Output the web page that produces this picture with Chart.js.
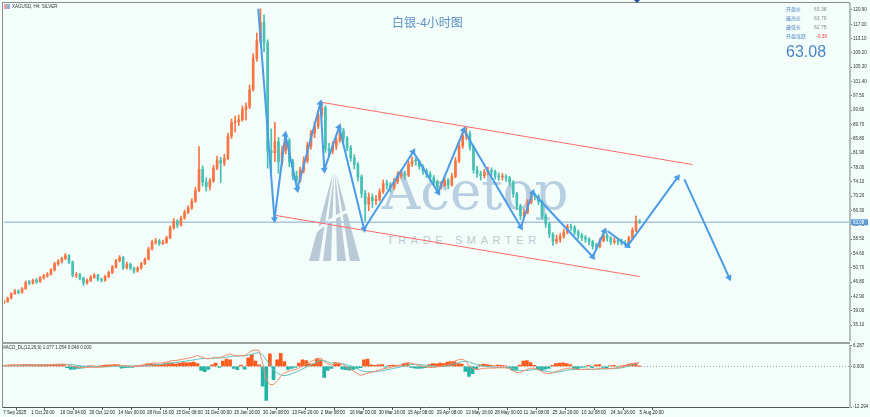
<!DOCTYPE html>
<html lang="zh">
  <head>
    <meta charset="UTF-8" />
    <title>XAGUSD H4 白银-4小时图</title>
    <script src="https://cdn.jsdelivr.net/npm/chart.js"></script>
    <style>
      body {
        margin: 0;
        width: 870px;
        height: 417px;
        overflow: hidden;
        position: relative;
        background: #f3fdf9;
        font-family: "Liberation Sans", Arial, sans-serif;
      }
      canvas { position: absolute; left: 0; z-index: 1; }
      #mainChart { top: 0; }
      #macdChart { top: 342px; }
      .abs { position: absolute; white-space: nowrap; z-index: 2; }
      .line { position: absolute; z-index: 3; }
      #wm { position: absolute; left: 0; top: 0; z-index: 0; }
      .wm-text { position: absolute; z-index: 0; white-space: nowrap; }
      .tiny { font-size: 4.5px; color: #333; line-height: 5px; }
      .info-l { font-family: "Noto Sans CJK SC", sans-serif; font-size: 5px; color: #5a8cc4; line-height: 6px; }
      .info-v { font-size: 5px; color: #888; line-height: 6px; }
    </style>
  </head>
  <body>
    <!-- watermark -->
    <svg id="wm" width="870" height="417">
      <polygon points="309,261 319,261 333,173" fill="#b9cad6" />
      <polygon points="323,261 331,261 334,173" fill="#b9cad6" />
      <polygon points="337,261 346,261 335,173" fill="#b9cad6" />
      <polygon points="350,261 360,261 336,173" fill="#b9cad6" />
      <path d="M312 234 Q335 214 364 204" stroke="#f3fdf9" stroke-width="3" fill="none" />
    </svg>
    <div class="wm-text" style="left:382px;top:164px;font-family:'DejaVu Serif',serif;font-size:53px;line-height:53px;color:#b7cfe1;">Acetop</div>
    <div class="wm-text" style="left:387px;top:234px;font-size:11px;letter-spacing:4.6px;color:#bfc9d0;">TRADE SMARTER</div>

    <canvas id="mainChart" width="870" height="344"></canvas>
    <canvas id="macdChart" width="870" height="75"></canvas>

    <!-- frame -->
    <div class="line" style="left:2px;top:2px;width:1px;height:406px;background:#8a8a8a;"></div>
    <div class="line" style="left:2px;top:2px;width:848px;height:1px;background:#8a8a8a;"></div>
    <div class="line" style="left:2px;top:342px;width:848px;height:2px;background:#9a9f9f;"></div>
    <div class="line" style="left:634px;top:0;width:0;height:0;border-left:3px solid transparent;border-right:3px solid transparent;border-top:3px solid #1f4e9c;"></div>

    <!-- labels -->
    <div class="abs" style="left:4px;top:4px;width:3px;height:5px;background:#e8a0a0;"></div>
    <div class="abs" style="left:7px;top:4px;width:3px;height:5px;background:#8fb3e0;"></div>
    <div class="abs tiny" style="left:12px;top:4px;">XAGUSD, H4: SILVER</div>
    <div class="abs tiny" style="left:2px;top:345px;">MACD_DL(12,26,9) 1.077 1.054 0.046 0.000</div>

    <div class="abs" style="left:392px;top:14px;font-family:'Noto Sans CJK SC',sans-serif;font-size:12px;line-height:16px;color:#5b8fc6;">白银-4小时图</div>

    <div class="abs info-l" style="left:786px;top:6px;">开盘价</div>
    <div class="abs info-v" style="left:814px;top:6px;">63.38</div>
    <div class="abs info-l" style="left:786px;top:15px;">最高价</div>
    <div class="abs info-v" style="left:814px;top:15px;">63.79</div>
    <div class="abs info-l" style="left:786px;top:24px;">最低价</div>
    <div class="abs info-v" style="left:814px;top:24px;">62.75</div>
    <div class="abs info-l" style="left:786px;top:33px;">开盘涨跌</div>
    <div class="abs info-v" style="left:816px;top:33px;color:#ff3b3b;">-0.30</div>
    <div class="abs" style="left:786px;top:43px;font-size:16px;line-height:18px;color:#4a86c8;">63.08</div>

    <script>
      // H4 candles, one per slot (8 slots between time labels)
      const firstOpen = 41.2;
      const closes = [
        41.5, 42.4, 43.6, 44.3, 44.0, 45.0, 46.8, 46.5, 47.3, 46.9,
        48.0, 48.5, 48.9, 50.1, 51.8, 52.4, 53.2, 54.0, 52.3, 48.6,
        48.8, 47.9, 46.6, 47.2, 48.1, 48.7, 47.6, 47.3, 48.3, 49.4,
        50.9, 52.6, 53.5, 50.7, 51.6, 50.6, 49.8, 50.6, 51.8, 53.0,
        55.8, 57.6, 58.0, 57.3, 57.6, 58.8, 61.6, 63.4, 62.3, 64.2,
        65.8, 66.9, 68.8, 71.8, 77.5, 74.0, 72.8, 74.3, 77.8, 80.0,
        79.2, 80.5, 86.5, 90.2, 90.5, 91.0, 93.8, 94.5, 99.2, 107.8,
        112.5, 117.5, 112.0, 82.5, 82.0, 85.0, 79.5, 82.5, 85.3, 79.5,
        75.6, 74.5, 77.2, 79.8, 83.8, 87.3, 89.2, 92.4, 94.3, 83.0,
        82.5, 83.8, 85.4, 88.0, 86.0, 83.4, 80.6, 78.8, 75.4, 71.0,
        68.0, 69.9, 69.0, 69.3, 71.4, 73.6, 73.2, 72.5, 74.1, 75.9,
        76.2, 75.9, 78.9, 79.8, 79.7, 78.2, 77.0, 76.2, 75.2, 74.0,
        72.6, 73.2, 74.5, 73.2, 75.6, 79.8, 83.8, 86.8, 87.2, 83.5,
        77.4, 76.2, 75.8, 76.7, 77.2, 76.8, 75.6, 75.4, 75.5, 75.2,
        74.0, 70.8, 67.5, 64.9, 65.8, 68.6, 70.2, 70.1, 68.7, 64.8,
        62.6, 59.8, 57.9, 58.5, 59.2, 60.4, 61.9, 61.7, 60.4, 59.5,
        58.9, 58.5, 57.8, 56.6, 56.5, 58.1, 59.5, 58.8, 57.7, 58.0,
        57.8, 57.5, 57.3, 58.8, 60.9, 63.38, 63.08
      ];
      const highs = [
        41.9, 42.7, 43.9, 44.8, 44.7, 45.3, 47.1, 47.3, 47.6, 47.8,
        48.3, 48.9, 49.4, 50.5, 52.2, 52.9, 53.6, 54.6, 54.3, 52.5,
        49.4, 49.2, 48.1, 47.7, 48.6, 49.1, 48.9, 47.9, 48.7, 49.8,
        51.3, 53.0, 54.0, 53.8, 52.3, 52.0, 50.9, 51.0, 52.2, 53.4,
        56.3, 58.2, 58.7, 58.4, 58.2, 59.3, 62.1, 64.1, 63.8, 64.8,
        66.4, 67.6, 69.5, 72.6, 83.7, 78.4, 75.2, 75.0, 78.6, 81.1,
        80.8, 81.6, 87.4, 91.2, 92.0, 92.3, 94.8, 95.6, 100.5, 109.0,
        114.6, 121.2, 119.6, 112.8, 88.5, 90.3, 86.2, 83.8, 86.4, 85.9,
        80.2, 77.0, 78.1, 80.9, 84.9, 88.1, 90.4, 93.5, 95.8, 94.8,
        84.6, 85.0, 86.3, 89.6, 88.7, 86.5, 84.0, 81.5, 79.4, 76.0,
        71.8, 71.1, 70.8, 70.4, 72.2, 74.6, 74.5, 73.9, 75.0, 76.8,
        77.4, 77.0, 79.8, 80.9, 80.6, 80.1, 78.8, 77.6, 76.9, 75.8,
        74.6, 74.1, 75.3, 75.0, 76.4, 80.7, 84.9, 87.9, 89.0, 87.9,
        84.1, 78.3, 77.0, 77.5, 78.1, 77.9, 77.3, 76.5, 76.4, 76.1,
        75.6, 74.4, 71.2, 68.0, 66.7, 69.3, 71.1, 71.0, 70.6, 69.1,
        65.4, 63.1, 60.3, 59.6, 60.1, 61.2, 62.5, 62.6, 62.2, 61.0,
        60.1, 59.5, 58.9, 58.2, 57.4, 58.7, 60.3, 59.9, 59.2, 58.9,
        58.6, 58.5, 58.1, 59.3, 61.6, 64.8, 63.79
      ];
      const lows = [
        40.9, 41.3, 42.2, 43.4, 43.6, 43.8, 44.8, 46.0, 46.2, 46.4,
        46.7, 47.6, 48.1, 48.7, 49.8, 51.3, 52.0, 52.9, 51.8, 48.2,
        48.0, 47.4, 45.9, 46.2, 46.9, 47.8, 47.1, 46.8, 47.0, 48.0,
        49.1, 50.6, 52.3, 50.2, 50.3, 50.1, 49.2, 49.5, 50.3, 51.5,
        52.8, 55.5, 57.1, 56.8, 57.0, 57.3, 58.6, 61.2, 61.6, 62.0,
        63.9, 65.4, 66.6, 68.5, 71.4, 72.9, 71.6, 71.9, 74.0, 77.4,
        73.9, 78.5, 80.1, 85.9, 87.6, 89.4, 90.6, 90.9, 94.0, 98.8,
        106.9, 111.8, 109.5, 77.8, 76.2, 79.6, 76.4, 78.6, 81.7, 78.2,
        74.6, 73.3, 73.9, 76.5, 79.2, 83.0, 86.1, 88.6, 91.5, 82.1,
        80.8, 81.7, 82.9, 84.8, 84.9, 82.5, 79.7, 77.6, 74.3, 69.8,
        63.4, 66.2, 67.1, 67.8, 68.9, 70.9, 72.1, 71.3, 72.0, 73.6,
        75.1, 74.8, 75.5, 78.2, 78.6, 77.5, 76.1, 75.2, 74.3, 73.1,
        71.7, 72.0, 72.8, 72.2, 72.9, 75.2, 79.3, 83.2, 85.6, 82.7,
        76.5, 75.3, 74.6, 75.1, 76.0, 75.9, 74.8, 74.5, 74.6, 74.2,
        73.1, 69.9, 66.6, 63.8, 64.2, 65.4, 68.1, 69.2, 67.9, 63.9,
        61.7, 58.9, 56.8, 57.2, 57.6, 58.7, 59.9, 60.8, 59.7, 58.6,
        58.1, 57.6, 56.9, 55.8, 55.5, 56.1, 57.7, 57.9, 57.0, 57.2,
        57.0, 56.9, 56.7, 57.0, 58.5, 60.5, 62.75
      ];
      const lastPrice = 63.08;

      // MACD_DL(12,26,9): histogram, DIF, DEA
      const macdHist = [
        0.2, 0.3, 0.4, 0.5, 0.4, 0.4, 0.6, 0.5, 0.4, 0.3,
        0.4, 0.4, 0.4, 0.5, 0.6, 0.5, 0.4, 0.3, -0.4, -0.9,
        -0.8, -0.6, -0.5, -0.2, 0.1, 0.2, 0.0, 0.1, 0.3, 0.4,
        0.5, 0.6, 0.5, -0.5, -0.4, -0.3, -0.3, 0.1, 0.3, 0.5,
        0.8, 0.9, 0.7, 0.5, 0.6, 0.9, 1.1, 1.0, 0.7, 1.0,
        1.2, 1.1, 1.2, 1.3, 0.9, -1.2, -1.6, -0.9, 0.5, 1.0,
        -0.3, 1.6, 2.2, 2.0, -0.6, -1.0, 0.4, -0.8, 2.6, 3.6,
        1.6, 0.5, -6.0, -10.3, 3.8, -4.0, 2.0, 4.0, 1.5, -0.9,
        -0.6, -0.3, 1.0, 2.0, 1.8, 0.8, 0.7, 2.4, 2.0, -3.3,
        -1.2, -0.6, 1.2, 1.0, -0.8, -1.0, -1.1, -0.9, -0.6, -0.4,
        2.0, 2.2, 0.5, 0.3, 0.5, 0.6, -0.2, 0.3, 0.4, 0.3,
        0.2, 0.9, 1.0, -0.3, -0.5, -0.6, -0.5, -0.4, 0.6, 0.9,
        0.8, 1.0, 0.9, 1.3, 1.5, 1.4, 0.9, 0.7, -1.5, -3.0,
        -2.2, -0.8, 0.5, 0.7, 0.6, 0.3, 0.2, 0.4, 0.3, 0.2,
        -0.4, -1.1, -1.2, 0.4, 1.6, 1.8, 1.2, 0.3, -1.0, -1.3,
        -0.8, -0.6, 0.3, 0.9, 1.0, 1.1, 0.9, 0.6, -0.7, -0.8,
        -0.3, -0.2, 0.3, -0.4, 0.5, 0.6, -0.3, -0.4, 0.2, 0.3,
        -0.2, 0.2, 0.3, 0.7, 0.9, 1.0, 0.05
      ];
      const macdDif = [
        0.3, 0.35, 0.4, 0.45, 0.45, 0.5, 0.55, 0.55, 0.55, 0.5,
        0.5, 0.5, 0.5, 0.55, 0.6, 0.65, 0.7, 0.75, 0.55, 0.2,
        -0.05, -0.25, -0.35, -0.35, -0.3, -0.25, -0.25, -0.25, -0.15, 0.0,
        0.15, 0.35, 0.5, 0.3, 0.2, 0.1, 0.0, 0.05, 0.15, 0.3,
        0.6, 0.9, 1.0, 1.0, 1.05, 1.2, 1.5, 1.8, 1.8, 2.0,
        2.2, 2.4, 2.6, 2.9, 3.3, 2.9, 2.5, 2.3, 2.5, 2.8,
        2.6, 3.0, 3.5, 3.8, 3.4, 3.2, 3.3, 3.2, 4.0, 4.8,
        5.0, 4.9, 1.0, -4.0, -5.5, -5.5, -4.5, -3.0, -2.0, -1.5,
        -1.2, -1.0, -0.5, 0.2, 0.8, 1.3, 1.8, 2.3, 2.6, 1.5,
        0.8, 0.4, 0.8, 1.0, 0.6, 0.0, -0.7, -1.3, -2.0, -2.8,
        -2.4, -2.0, -1.8, -1.5, -1.2, -0.8, -0.6, -0.4, -0.1, 0.2,
        0.4, 0.8, 1.1, 1.0, 0.7, 0.4, 0.1, -0.2, -0.3, -0.3,
        -0.2, 0.0, 0.2, 0.5, 1.0, 1.6, 2.0, 2.2, 1.8, 0.2,
        -0.6, -0.9, -0.8, -0.6, -0.5, -0.5, -0.5, -0.4, -0.4, -0.4,
        -0.6, -1.2, -1.8, -1.9, -1.4, -0.9, -0.6, -0.5, -0.9, -1.5,
        -2.0, -2.2, -2.0, -1.6, -1.2, -0.9, -0.6, -0.5, -0.7, -0.9,
        -0.9, -0.9, -0.8, -0.9, -0.8, -0.6, -0.6, -0.7, -0.6, -0.5,
        -0.5, -0.2, 0.1, 0.5, 0.8, 1.0, 1.077
      ];
      const macdDea = [
        0.2, 0.22, 0.25, 0.28, 0.31, 0.34, 0.37, 0.4, 0.42, 0.44,
        0.45, 0.46, 0.47, 0.48, 0.5, 0.52, 0.55, 0.58, 0.58, 0.52,
        0.42, 0.3, 0.18, 0.08, 0.0, -0.05, -0.1, -0.13, -0.13, -0.1,
        -0.05, 0.05, 0.15, 0.18, 0.18, 0.16, 0.13, 0.11, 0.12, 0.15,
        0.25, 0.38, 0.5, 0.6, 0.68, 0.78, 0.9, 1.05, 1.2, 1.35,
        1.5, 1.65, 1.8, 2.0, 2.2, 2.35, 2.4, 2.4, 2.42, 2.5,
        2.55, 2.65, 2.8, 3.0, 3.1, 3.15, 3.2, 3.2, 3.4, 3.7,
        4.0, 4.2, 3.5, 2.0, 0.5, -1.0, -2.0, -2.6, -2.8, -2.6,
        -2.2, -1.8, -1.3, -0.8, -0.2, 0.4, 0.9, 1.4, 1.8, 1.8,
        1.4, 1.0, 0.9, 0.9, 0.8, 0.6, 0.3, -0.1, -0.6, -1.2,
        -1.5, -1.6, -1.6, -1.6, -1.5, -1.3, -1.1, -0.9, -0.6, -0.4,
        -0.2, 0.1, 0.4, 0.6, 0.65, 0.6, 0.5, 0.35, 0.2, 0.1,
        0.0, -0.05, 0.0, 0.1, 0.35, 0.7, 1.1, 1.45, 1.6, 1.4,
        1.0, 0.6, 0.3, 0.1, -0.05, -0.15, -0.25, -0.3, -0.33, -0.35,
        -0.4, -0.55, -0.85, -1.15, -1.25, -1.2, -1.1, -0.95, -0.95, -1.1,
        -1.35, -1.6, -1.75, -1.75, -1.6, -1.4, -1.2, -1.0, -0.9, -0.9,
        -0.9, -0.9, -0.88, -0.88, -0.86, -0.8, -0.75, -0.73, -0.7, -0.65,
        -0.6, -0.45, -0.25, 0.1, 0.45, 0.8, 1.054
      ];

      // axes
      const priceTicks = [35.1, 39.0, 42.9, 46.8, 50.7, 54.6, 58.5, 62.4, 66.3, 70.2, 74.1, 78.0,
        81.9, 85.8, 89.7, 93.6, 97.5, 101.4, 105.3, 109.2, 113.1, 117.0, 120.9];
      const macdTicks = [-12.294, 0, 6.287];
      const timeLabels = ["7 Sep 2025", "1 Oct 20:00", "16 Oct 04:00", "30 Oct 12:00", "14 Nov 00:00",
        "28 Nov 16:00", "15 Dec 08:00", "31 Dec 00:00", "15 Jan 16:00", "30 Jan 08:00", "13 Feb 20:00",
        "2 Mar 08:00", "16 Mar 00:00", "30 Mar 16:00", "15 Apr 08:00", "29 Apr 08:00", "13 May 16:00",
        "28 May 00:00", "11 Jun 08:00", "25 Jun 20:00", "10 Jul 08:00", "24 Jul 16:00", "5 Aug 20:00"];
      const timeTickPos = [0, 7.74, 15.74, 23.74, 31.74, 39.74, 47.74, 55.74, 63.74, 71.74, 79.74,
        87.74, 95.74, 103.74, 111.74, 119.74, 127.74, 135.74, 143.74, 151.74, 159.74, 167.74, 175.74];
      const xMax = 234.25;

      // hand drawn analysis (bar index, price)
      const zigzagX = [70.4, 74.9, 77.9, 81.2, 87.6, 88.7, 92.8, 99.7, 113.3, 120.2, 127.3, 143.1, 146.4, 163.0, 166.3];
      const zigzagY = [121.2, 63.9, 86.9, 72.1, 95.5, 77.4, 89.05, 61.25, 82.3, 71.2, 88.2, 61.8, 71.2, 53.7, 60.7];
      const projUpX = [167.1, 172.7, 186.5];
      const projUpY = [60.7, 56.65, 75.3];
      const projDownX = [188.4, 200.8];
      const projDownY = [74.75, 48.0];
      const channelTopX = [87.6, 190.6];
      const channelTopY = [95.8, 78.8];
      const channelBotX = [74.9, 176.0];
      const channelBotY = [65.0, 48.3];

      const BULL = "#fb7442";
      const BEAR = "#45c0b2";
      const BLUE = "#4a9ce8";
      const RED = "#ff6a6a";
      Chart.defaults.font.family = "Liberation Sans";
      Chart.defaults.animation = false;

      const opens = closes.map((c, i) => (i === 0 ? firstOpen : closes[i - 1]));
      const candleColors = closes.map((c, i) => (c >= opens[i] ? BULL : BEAR));

      function arrowDatasets(xs, ys) {
        const out = [];
        for (let i = 1; i < xs.length; i++) {
          const x0 = xs[i - 1], y0 = ys[i - 1], x1 = xs[i], y1 = ys[i];
          out.push({
            type: "line",
            data: [{ x: x0, y: y0 }, { x: x1, y: y1 }],
            borderColor: BLUE,
            borderWidth: 2,
            pointRadius: [0, 4],
            pointHoverRadius: 0,
            pointStyle: "triangle",
            pointBackgroundColor: BLUE,
            pointBorderWidth: 0,
            pointRotation: (ctx) => {
              const sx = ctx.chart.scales.x, sy = ctx.chart.scales.y;
              const dx = sx.getPixelForValue(x1) - sx.getPixelForValue(x0);
              const dy = sy.getPixelForValue(y1) - sy.getPixelForValue(y0);
              return (Math.atan2(dx, -dy) * 180) / Math.PI;
            },
            order: 1,
          });
        }
        return out;
      }

      function lineSet(xs, ys, color, width, order, dash) {
        return {
          type: "line",
          data: xs.map((x, i) => ({ x: x, y: ys[i] })),
          borderColor: color,
          borderWidth: width,
          borderDash: dash || [],
          pointRadius: 0,
          order: order,
        };
      }

      const priceTag = {
        id: "priceTag",
        afterDraw(chart) {
          const c = chart.ctx;
          const y = chart.scales.y.getPixelForValue(lastPrice);
          c.save();
          c.fillStyle = "#5d9ad6";
          c.fillRect(chart.chartArea.right + 1, y - 3, 17, 6);
          c.fillStyle = "#ffffff";
          c.font = "4.5px Liberation Sans";
          c.textBaseline = "middle";
          c.fillText(lastPrice.toFixed(2), chart.chartArea.right + 3, y);
          c.restore();
        },
      };

      new Chart(document.getElementById("mainChart"), {
        type: "bar",
        plugins: [priceTag],
        data: {
          datasets: [
            lineSet([0, xMax], [lastPrice, lastPrice], "#a9c6de", 1.5, 10),
            {
              type: "bar",
              data: closes.map((c, i) => ({ x: i, y: [lows[i], highs[i]] })),
              backgroundColor: candleColors,
              barThickness: 1,
              grouped: false,
              order: 5,
            },
            {
              type: "bar",
              data: closes.map((c, i) => ({ x: i, y: [Math.min(opens[i], c), Math.max(opens[i], c)] })),
              backgroundColor: candleColors,
              barThickness: 2,
              minBarLength: 1,
              grouped: false,
              order: 4,
            },
            lineSet(channelTopX, channelTopY, RED, 1, 2),
            lineSet(channelBotX, channelBotY, RED, 1, 2),
            ...arrowDatasets(zigzagX, zigzagY),
            ...arrowDatasets(projUpX, projUpY),
            ...arrowDatasets(projDownX, projDownY),
          ],
        },
        options: {
          responsive: false,
          layout: { padding: { left: 2, top: 3, bottom: 2, right: 0 } },
          plugins: { legend: { display: false }, tooltip: { enabled: false } },
          scales: {
            x: { type: "linear", min: 0, max: xMax, offset: false, display: false },
            y: {
              position: "right",
              min: 31.02,
              max: 122.52,
              afterFit: (s) => { s.width = 20; },
              afterBuildTicks: (s) => { s.ticks = priceTicks.map((v) => ({ value: v })); },
              ticks: { font: { size: 4.5 }, color: "#333", padding: 1, callback: (v) => v.toFixed(2) },
              grid: { drawOnChartArea: false, tickLength: 2, color: "#666" },
              border: { display: true, color: "#b5bebe", width: 2 },
            },
          },
        },
      });

      new Chart(document.getElementById("macdChart"), {
        type: "bar",
        data: {
          datasets: [
            lineSet([0, xMax], [0, 0], "#9aa0a0", 1, 10, [1, 2]),
            {
              type: "bar",
              data: macdHist.map((v, i) => ({ x: i, y: v })),
              backgroundColor: macdHist.map((v) => (v >= 0 ? "#ff5a1e" : "#25b3a5")),
              barThickness: 3,
              grouped: false,
              order: 5,
            },
            lineSet(macdDif.map((v, i) => i), macdDif, "#f38a6a", 1, 2),
            lineSet(macdDea.map((v, i) => i), macdDea, "#5fc3c0", 1, 3),
          ],
        },
        options: {
          responsive: false,
          layout: { padding: { left: 2, top: 2, bottom: 0, right: 0 } },
          plugins: { legend: { display: false }, tooltip: { enabled: false } },
          scales: {
            x: {
              type: "linear",
              min: 0,
              max: xMax,
              offset: false,
              afterFit: (s) => { s.height = 10; },
              afterBuildTicks: (s) => { s.ticks = timeTickPos.map((v) => ({ value: v })); },
              ticks: {
                autoSkip: false,
                maxRotation: 0,
                align: "start",
                padding: 0,
                font: { size: 4.5 },
                color: "#222",
                callback: (v, i) => " " + timeLabels[i],
              },
              grid: { drawOnChartArea: false, tickLength: 3, color: "#555" },
              border: { display: true, color: "#555", width: 1 },
            },
            y: {
              position: "right",
              min: -12.294,
              max: 6.287,
              afterFit: (s) => { s.width = 20; },
              afterBuildTicks: (s) => { s.ticks = macdTicks.map((v) => ({ value: v })); },
              ticks: { font: { size: 4.5 }, color: "#333", padding: 1, callback: (v) => v.toFixed(3) },
              grid: { drawOnChartArea: false, tickLength: 2, color: "#666" },
              border: { display: true, color: "#b5bebe", width: 2 },
            },
          },
        },
      });
    </script>
  </body>
</html>
